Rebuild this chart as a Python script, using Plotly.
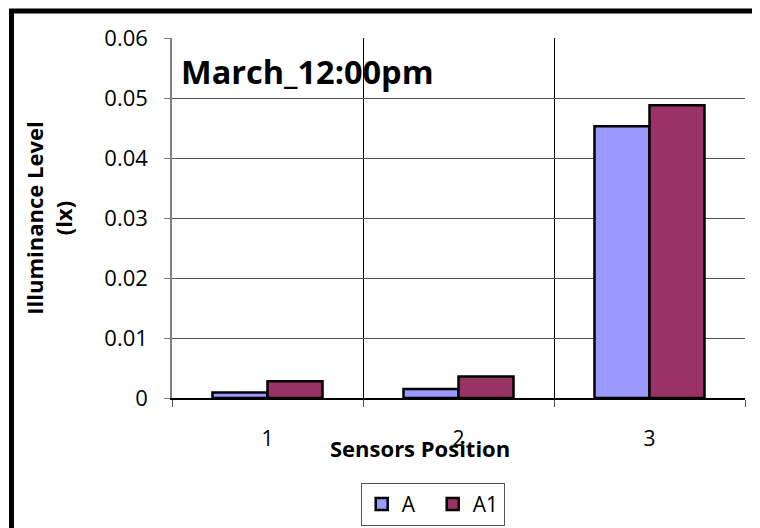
import plotly.graph_objects as go

positions = [1, 2, 3]
position_labels = ["1", "2", "3"]
series_a = [0.0009, 0.0015, 0.0453]
series_a1 = [0.0028, 0.0036, 0.0488]
y_ticks = [0, 0.01, 0.02, 0.03, 0.04, 0.05, 0.06]
y_tick_labels = ["0", "0.01", "0.02", "0.03", "0.04", "0.05", "0.06"]

FONT = "Open Sans"

fig = go.Figure()
fig.add_trace(go.Bar(x=positions, y=series_a, name="A",
                     marker=dict(color="#9999FF", line=dict(color="black", width=2.5))))
fig.add_trace(go.Bar(x=positions, y=series_a1, name="A1",
                     marker=dict(color="#993366", line=dict(color="black", width=2.5))))

fig.update_layout(
    width=760, height=528,
    margin=dict(l=164, r=23, t=30, b=138, autoexpand=False),
    paper_bgcolor="white", plot_bgcolor="white",
    font=dict(family=FONT, color="black", size=21),
    barmode="group", bargap=0.424, bargroupgap=0,
    showlegend=True,
    legend=dict(orientation="h", x=0.455, xanchor="center", y=-0.236, yanchor="top",
                bordercolor="#555555", borderwidth=1, font=dict(size=21),
                entrywidth=26, itemclick=False),
    xaxis=dict(range=[0.5, 3.5], tickvals=positions, ticktext=position_labels,
               showgrid=False, ticks="", showline=True, linecolor="black", linewidth=1.5,
               zeroline=False, ticklabelstandoff=21, automargin=False,
               minor=dict(tick0=0.5, dtick=1, showgrid=True, gridcolor="black", gridwidth=1.2,
                          ticks="outside", ticklen=7, tickcolor="#555555")),
    yaxis=dict(range=[0, 0.06], tickvals=y_ticks, ticktext=y_tick_labels,
               showgrid=True, gridcolor="#505050", gridwidth=1.2,
               ticks="outside", ticklen=6, tickcolor="#808080",
               showline=True, linecolor="#808080", linewidth=1.5, zeroline=False,
               ticklabelstandoff=12, automargin=False, tickfont=dict(size=22),
               title=dict(text="<b>Illuminance Level<br>(lx)</b>", font=dict(size=22), standoff=26)),
)

fig.add_annotation(text="<b>March_12:00pm</b>", xref="paper", yref="paper",
                   x=0.012, y=0.906, xanchor="left", yanchor="middle",
                   showarrow=False, font=dict(size=32.5, family=FONT))
fig.add_annotation(text="<b>Sensors Position</b>", xref="paper", yref="paper",
                   x=0.433, y=-0.139, xanchor="center", yanchor="middle",
                   showarrow=False, font=dict(size=22, family=FONT))

fig.add_shape(type="rect", xref="paper", yref="paper",
              x0=-0.2801, x1=1.12, y0=-0.45, y1=1.075,
              line=dict(color="black", width=5), fillcolor="rgba(0,0,0,0)", layer="above")

fig.write_html("out.html")
